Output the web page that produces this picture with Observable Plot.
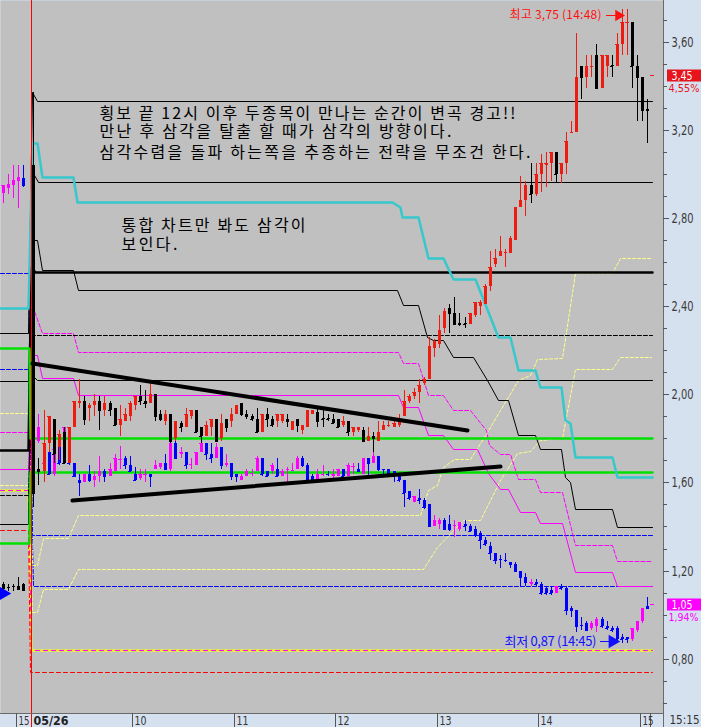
<!DOCTYPE html>
<html><head><meta charset="utf-8">
<script src="https://cdn.jsdelivr.net/npm/d3@7"></script>
<script src="https://cdn.jsdelivr.net/npm/@observablehq/plot@0.6"></script>
<style>
html,body{margin:0;padding:0;background:#d5e1ef;}
#chart svg{display:block;}
</style></head>
<body><div id="chart"></div>
<script>
// ---------- time slots (3-minute candles; negatives = previous day) ----------
const slots = [-6,-5,-4,-3,-2].concat(d3.range(0,122));

// ---------- stock A (red up / black down) ----------
const aOpen = [1.14,1.125,1.13,1.13,1.138,
3.04,1.66,1.65,1.78,1.89,1.76,1.83,1.69,1.85,1.96,
1.97,1.94,1.95,1.97,1.93,1.96,1.94,1.86,1.88,1.90,
1.95,1.99,1.97,1.96,2.00,1.91,1.88,1.91,1.80,1.87,
1.85,1.90,1.93,1.85,1.81,1.85,1.89,1.80,1.89,1.88,
1.91,1.96,1.91,1.90,1.89,1.83,1.91,1.89,1.88,1.88,
1.89,1.84,1.89,1.84,1.85,1.91,1.92,1.892,1.892,1.89,
1.89,1.86,1.88,1.83,1.84,1.84,1.79,1.81,1.79,1.84,
1.858,1.85,1.86,1.90,1.97,1.99,2.01,2.05,2.07,2.21,
2.23,2.30,2.39,2.37,2.325,2.325,2.32,2.36,2.40,2.41,
2.49,2.59,2.63,2.64,2.64,2.70,2.85,2.88,2.95,2.91,
3.00,3.04,3.05,3.10,3.00,3.05,3.185,3.19,3.49,3.44,
3.485,3.54,3.39,3.49,3.495,3.49,3.59,3.685,3.69,3.49,
3.44,3.295];
const aHigh = [1.15,1.14,1.14,1.17,1.142,
3.37,1.71,1.93,1.90,1.89,1.84,1.85,1.85,1.97,2.07,
1.99,1.96,2.00,1.99,1.99,1.97,1.94,1.95,1.94,1.97,
1.99,2.04,2.02,2.05,2.00,1.93,1.93,1.91,1.88,1.88,
1.94,1.93,1.93,1.85,1.88,1.89,1.89,1.91,1.89,1.94,
1.95,1.96,1.93,1.91,1.94,1.91,1.94,1.90,1.91,1.91,
1.91,1.88,1.89,1.86,1.93,1.93,1.94,1.94,1.91,1.91,
1.89,1.90,1.88,1.85,1.85,1.85,1.85,1.83,1.88,1.88,
1.88,1.88,1.91,2.02,2.00,2.03,2.07,2.08,2.26,2.25,
2.36,2.39,2.41,2.44,2.37,2.35,2.37,2.42,2.43,2.50,
2.65,2.66,2.72,2.66,2.72,2.85,2.99,2.97,3.05,3.05,
3.09,3.10,3.10,3.10,3.05,3.19,3.24,3.64,3.49,3.54,
3.54,3.59,3.54,3.54,3.54,3.64,3.75,3.75,3.69,3.54,
3.44,3.34];
const aLow = [1.11,1.105,1.107,1.118,1.105,
1.49,1.59,1.60,1.74,1.69,1.70,1.69,1.69,1.85,1.94,
1.86,1.88,1.90,1.84,1.90,1.90,1.86,1.81,1.88,1.88,
1.93,1.95,1.94,1.96,1.88,1.88,1.86,1.78,1.79,1.83,
1.85,1.89,1.83,1.78,1.81,1.81,1.79,1.79,1.83,1.85,
1.91,1.90,1.89,1.88,1.83,1.83,1.85,1.85,1.85,1.87,
1.85,1.84,1.83,1.82,1.85,1.91,1.85,1.85,1.88,1.87,
1.85,1.85,1.81,1.81,1.83,1.79,1.79,1.74,1.79,1.84,
1.85,1.85,1.85,1.90,1.96,1.98,1.96,2.04,2.07,2.17,
2.21,2.28,2.28,2.32,2.31,2.30,2.32,2.35,2.36,2.41,
2.47,2.58,2.63,2.58,2.64,2.70,2.85,2.81,2.87,2.90,
2.92,2.94,2.97,2.96,2.96,3.00,3.185,3.19,3.34,3.39,
3.44,3.39,3.39,3.44,3.44,3.49,3.54,3.54,3.39,3.24,
3.24,3.14];
const aClose = [1.12,1.123,1.128,1.118,1.113,
1.55,1.65,1.78,1.90,1.73,1.82,1.69,1.85,1.97,1.97,
1.89,1.95,1.97,1.93,1.96,1.93,1.86,1.89,1.91,1.96,
1.99,1.97,1.96,2.00,1.90,1.89,1.91,1.79,1.88,1.85,
1.91,1.93,1.83,1.81,1.86,1.89,1.79,1.87,1.85,1.91,
1.95,1.91,1.90,1.89,1.83,1.91,1.89,1.86,1.91,1.91,
1.88,1.88,1.86,1.86,1.93,1.93,1.88,1.888,1.888,1.87,
1.85,1.88,1.83,1.85,1.85,1.79,1.81,1.80,1.83,1.86,
1.862,1.87,1.89,1.97,1.99,2.01,2.04,2.07,2.22,2.24,
2.29,2.38,2.37,2.32,2.32,2.32,2.37,2.42,2.42,2.49,
2.58,2.62,2.65,2.645,2.71,2.85,2.88,2.95,2.91,3.00,
3.05,3.05,3.10,3.00,3.05,3.15,3.19,3.44,3.44,3.49,
3.49,3.39,3.54,3.54,3.49,3.59,3.69,3.69,3.49,3.44,
3.29,3.29];

// ---------- stock B (magenta up / blue down) ----------
const bOpen = [2.914,2.938,2.951,2.968,2.984,
1.88,1.79,1.65,1.74,1.64,1.76,1.69,1.71,1.69,1.61,
1.60,1.64,1.61,1.63,1.65,1.63,1.65,1.704,1.71,1.68,
1.64,1.62,1.638,1.64,1.66,1.67,1.69,1.66,1.78,1.73,
1.74,1.683,1.68,1.74,1.78,1.73,1.71,1.76,1.68,1.69,
1.64,1.61,1.63,1.641,1.65,1.71,1.65,1.65,1.66,1.63,
1.659,1.656,1.66,1.71,1.68,1.63,1.61,1.638,1.640,1.63,
1.63,1.66,1.63,1.674,1.66,1.64,1.71,1.69,1.72,1.661,
1.66,1.65,1.64,1.61,1.56,1.51,1.53,1.52,1.50,1.40,
1.41,1.43,1.41,1.406,1.39,1.41,1.40,1.39,1.37,1.34,
1.31,1.28,1.254,1.249,1.24,1.23,1.20,1.17,1.14,1.15,
1.14,1.12,1.11,1.10,1.13,1.12,1.03,1.02,0.954,0.96,
0.94,0.95,0.98,0.95,0.94,0.94,0.90,0.90,0.89,0.93,
0.97,1.04];
const bHigh = [2.948,3.000,3.041,3.041,3.041,
1.95,1.91,1.70,1.74,1.75,1.76,1.85,1.72,1.69,1.64,
1.64,1.68,1.65,1.72,1.66,1.69,1.73,1.766,1.72,1.72,
1.67,1.66,1.66,1.64,1.70,1.69,1.73,1.78,1.79,1.76,
1.74,1.71,1.74,1.80,1.78,1.78,1.78,1.76,1.73,1.69,
1.64,1.64,1.66,1.66,1.72,1.71,1.65,1.69,1.71,1.66,
1.67,1.69,1.72,1.72,1.69,1.64,1.66,1.68,1.65,1.66,
1.66,1.66,1.69,1.69,1.69,1.71,1.71,1.74,1.72,1.66,
1.66,1.65,1.64,1.61,1.56,1.54,1.57,1.53,1.50,1.45,
1.44,1.44,1.45,1.43,1.42,1.43,1.41,1.40,1.38,1.35,
1.33,1.28,1.27,1.28,1.24,1.24,1.20,1.19,1.16,1.16,
1.15,1.13,1.13,1.13,1.14,1.13,1.04,1.02,0.99,0.97,
0.97,0.99,0.99,0.97,0.95,0.95,0.91,0.90,0.94,0.97,
1.03,1.08];
const bLow = [2.869,2.909,2.893,2.844,2.943,
1.60,1.78,1.64,1.64,1.63,1.68,1.69,1.68,1.63,1.54,
1.60,1.60,1.58,1.60,1.60,1.63,1.65,1.66,1.66,1.65,
1.61,1.61,1.60,1.58,1.66,1.66,1.66,1.65,1.71,1.71,
1.66,1.66,1.68,1.74,1.70,1.69,1.71,1.66,1.67,1.61,
1.60,1.61,1.63,1.63,1.65,1.63,1.63,1.64,1.63,1.63,
1.60,1.65,1.66,1.67,1.61,1.61,1.60,1.63,1.63,1.62,
1.63,1.63,1.63,1.64,1.65,1.64,1.63,1.69,1.65,1.64,
1.63,1.60,1.60,1.49,1.52,1.51,1.50,1.48,1.40,1.40,
1.39,1.39,1.38,1.35,1.38,1.38,1.38,1.35,1.30,1.31,
1.25,1.23,1.21,1.24,1.21,1.20,1.13,1.13,1.13,1.13,
1.09,1.09,1.09,1.10,1.11,1.00,0.99,0.92,0.93,0.93,
0.93,0.92,0.94,0.93,0.92,0.87,0.87,0.87,0.88,0.92,
0.96,1.03];
const bClose = [2.948,2.954,2.971,2.987,2.951,
1.66,1.85,1.69,1.64,1.75,1.69,1.85,1.69,1.63,1.60,
1.64,1.61,1.63,1.65,1.63,1.66,1.71,1.706,1.68,1.65,
1.61,1.64,1.640,1.63,1.68,1.69,1.66,1.78,1.71,1.74,
1.68,1.685,1.74,1.78,1.73,1.71,1.76,1.68,1.69,1.63,
1.63,1.63,1.65,1.643,1.71,1.64,1.63,1.68,1.63,1.65,
1.661,1.658,1.71,1.68,1.61,1.61,1.64,1.640,1.638,1.64,
1.66,1.63,1.68,1.676,1.65,1.71,1.69,1.72,1.66,1.659,
1.64,1.63,1.61,1.55,1.53,1.54,1.52,1.49,1.40,1.43,
1.43,1.39,1.39,1.408,1.42,1.40,1.38,1.36,1.34,1.32,
1.28,1.25,1.252,1.247,1.23,1.20,1.17,1.15,1.15,1.14,
1.10,1.10,1.10,1.13,1.12,1.02,1.02,0.95,0.952,0.93,
0.96,0.98,0.95,0.94,0.93,0.89,0.89,0.89,0.94,0.97,
1.03,1.03];

// ---------- indicator lines: [slot, price] ----------
const cyanLine = [[-6.59,2.391],[-1.07,2.391],[-0.28,3.140],[0.65,3.140],[1.64,2.988],[7.87,2.988],[8.66,2.874],[70.73,2.874],[72.31,2.852],[72.70,2.804],[75.86,2.804],[77.83,2.618],[80.79,2.618],[82.76,2.522],[87.10,2.522],[91.64,2.262],[94.00,2.262],[95.58,2.111],[98.94,2.111],[99.92,2.035],[104.06,2.035],[104.85,1.884],[105.84,1.870],[106.82,1.717],[114.12,1.717],[115.11,1.626],[121.9,1.626]];
const blackTop = [[-6.59,2.276],[-1.07,2.276],[-0.28,3.372],[0.71,3.332],[121.9,3.332]];
const blackSecond = [[-6.59,2.061],[-1.07,2.061],[-0.08,3.003],[0.91,2.965],[121.9,2.965]];
const blackStep = [[-6.59,1.410],[-1.07,1.410],[-0.28,2.701],[0.71,2.701],[1.70,2.564],[7.81,2.564],[8.80,2.474],[71.72,2.474],[72.90,2.406],[75.86,2.406],[77.63,2.260],[78.82,2.247],[80.79,2.247],[82.76,2.170],[86.71,2.170],[89.47,2.065],[91.64,1.974],[93.61,1.974],[95.58,1.816],[98.94,1.816],[99.92,1.752],[104.06,1.752],[104.85,1.625],[105.84,1.602],[106.82,1.480],[114.12,1.480],[115.11,1.398],[121.9,1.398]];
const blackThick = [[-6.59,1.745],[-1.07,1.745],[-0.47,2.578],[0.32,2.557],[121.9,2.557]];
const blackDash = [[-6.59,1.545],[-1.07,1.545],[-0.08,2.268],[121.9,2.268]];
const blackMid = [[-0.28,2.088],[0.71,2.065],[121.9,2.065]];
const magentaDash = [[-6.59,1.830],[-1.07,1.830],[-0.08,2.392],[1.64,2.280],[7.87,2.280],[8.80,2.194],[71.91,2.194],[72.90,2.142],[75.86,2.142],[77.83,1.997],[80.79,1.997],[82.76,1.929],[86.11,1.929],[89.27,1.838],[89.86,1.770],[92.03,1.729],[94.00,1.729],[95.58,1.616],[98.94,1.616],[99.92,1.557],[104.26,1.557],[106.82,1.316],[114.12,1.316],[115.11,1.244],[121.9,1.244]];
const magentaSolid = [[-6.59,1.662],[-1.07,1.662],[-0.28,2.179],[0.71,2.179],[1.70,2.074],[7.81,2.074],[8.80,1.997],[71.91,1.997],[72.90,1.943],[75.86,1.943],[77.83,1.816],[80.79,1.816],[82.76,1.752],[87.50,1.752],[89.66,1.643],[92.03,1.570],[93.61,1.570],[95.98,1.466],[98.94,1.466],[99.92,1.416],[104.26,1.416],[106.82,1.194],[114.12,1.194],[115.11,1.130],[121.9,1.130]];
const greenUpper = [[-6.59,2.209],[-0.87,2.209],[-0.67,1.801],[121.9,1.801]];
const greenLower = [[-6.59,1.323],[-0.87,1.323],[-0.67,1.649],[121.9,1.649]];
const blueUpper = [[-6.59,2.550],[-1.07,2.550],[-0.28,1.360],[121.9,1.360]];
const blueLower = [[-6.59,2.115],[-1.07,2.115],[-0.08,1.129],[121.9,1.129]];
const redDash = [[-6.59,1.385],[-1.07,1.385],[-0.67,0.738],[121.9,0.738]];
const yellowBase = [[-6.59,1.566],[-1.07,1.566],[-0.47,0.840],[121.9,0.840]];
const yellowUpper = [[-6.59,1.916],[-1.07,1.916],[-0.28,1.225],[0.71,1.225],[1.89,1.347],[6.82,1.347],[8.80,1.452],[76.25,1.452],[77.83,1.566],[79.61,1.589],[80.79,1.670],[82.96,1.707],[86.11,1.707],[89.47,1.829],[92.03,1.929],[95.58,2.065],[97.95,2.088],[99.33,2.160],[104.26,2.165],[106.82,2.551],[114.12,2.551],[115.70,2.618],[121.81,2.618]];
const yellowLower = [[-6.59,1.586],[-1.07,1.586],[-0.28,1.013],[0.71,1.013],[1.89,1.115],[6.82,1.115],[8.80,1.206],[76.84,1.206],[79.61,1.307],[84.73,1.430],[88.09,1.430],[92.03,1.611],[95.38,1.734],[97.95,1.743],[99.92,1.793],[104.26,1.802],[106.82,2.115],[114.12,2.115],[115.70,2.171],[121.81,2.171]];
const trendUpper = [[-0.3,2.141],[85.46,1.838]];
const trendLower = [[7.55,1.521],[92.03,1.675]];

// ---------- axis ticks / labels ----------
const yLabelTicks = [0.8,1.2,1.6,2.0,2.4,2.8,3.2,3.6];
const yMinorTicks = [0.6,0.7,0.9,1.0,1.1,1.3,1.4,1.5,1.7,1.8,1.9,2.1,2.2,2.3,2.5,2.6,2.7,2.9,3.0,3.1,3.3,3.4,3.5,3.7];
const xTickSlots = [-3.5,-0.55,19.5,39.5,59.5,79.5,99.5,119.5];
const xTickLabels = ["15","05/26","10","11","12","13","14","15"];
const lastA = 3.45, lastAPct = "4,55%";
const lastB = 1.05, lastBPct = "1,94%";
const highA = 3.75, lowB = 0.87;

const notesMain = ["횡보 끝 12시 이후 두종목이 만나는 순간이 변곡 경고!!","만난 후 삼각을 탈출 할 때가 삼각의 방향이다.","삼각수렴을 돌파 하는쪽을 추종하는 전략을 무조건 한다."];
const notesSub = ["통합 차트만 봐도 삼각이","보인다."];

// ---------- layout ----------
const W = 701, Hgt = 727, mR = 38, mB = 14;
const xDom = [-6.59, 124.12], yDom = [0.5533, 3.7898];
const xMax = xDom[1], yMin = yDom[0], yMax = yDom[1];
const pxT = (xDom[1]-xDom[0])/(W-mR);   // slot units per pixel
const pxV = (yDom[1]-yDom[0])/(Hgt-mB); // price units per pixel
const fmt = d => d.toFixed(2).replace(".", ",");
const NARROW = "'Liberation Sans Narrow','DejaVu Sans Condensed','Liberation Sans',sans-serif";
const KR = "'Noto Sans CJK KR','Noto Sans CJK SC',sans-serif";

const RED="#ee1b10", BLK="#000000", MAG="#ff00ff", BLU="#0000ff";

function rows(O,H,L,C){ return slots.map((s,i)=>({t:s,o:O[i],h:H[i],l:L[i],c:C[i]})); }
const A = rows(aOpen,aHigh,aLow,aClose), B = rows(bOpen,bHigh,bLow,bClose);

function candleMarks(data, up, down){
  const u = data.filter(d=>d.c>=d.o), dn = data.filter(d=>d.c<d.o);
  const out = [];
  for (const [set,col] of [[dn,down],[u,up]]) {
    out.push(Plot.ruleX(set,{x:"t",y1:"l",y2:"h",stroke:col,strokeWidth:1}));
    out.push(Plot.ruleX(set,{x:"t",y1:"o",y2:"c",stroke:col,strokeWidth:3}));
    out.push(Plot.ruleY(set,{y:"c",x1:d=>d.t-0.3,x2:d=>d.t+0.3,stroke:col,strokeWidth:1}));
  }
  return out;
}
const L = (data,opt)=>Plot.line(data,{x:d=>d[0],y:d=>d[1],...opt});

const chart = Plot.plot({
  width: W, height: Hgt,
  marginLeft: 0, marginRight: mR, marginTop: 0, marginBottom: mB,
  x: {domain: xDom, axis: null, round: true},
  y: {domain: yDom, axis: null, round: true},
  style: {background: "#d5e1ef", fontFamily: NARROW, fontSize: "13px", overflow: "visible"},
  marks: [
    Plot.frame({fill: "#c0c0c0", stroke: null}),
    // indicator lines
    L(yellowBase,{stroke:"#ffff00",strokeWidth:2}),
    L(yellowBase,{stroke:MAG,strokeWidth:1,strokeDasharray:"4,4"}),
    L(redDash,{stroke:"#ff0000",strokeWidth:1,strokeDasharray:"4,3"}),
    L(blueUpper,{stroke:BLU,strokeWidth:1,strokeDasharray:"4,2"}),
    L(blueLower,{stroke:BLU,strokeWidth:1,strokeDasharray:"4,2"}),
    L(yellowUpper,{stroke:"#ffff88",strokeWidth:1,strokeDasharray:"3,2"}),
    L(yellowLower,{stroke:"#ffff88",strokeWidth:1,strokeDasharray:"3,2"}),
    L(magentaDash,{stroke:MAG,strokeWidth:1,strokeDasharray:"4,2"}),
    L(magentaSolid,{stroke:MAG,strokeWidth:1}),
    L(blackDash,{stroke:BLK,strokeWidth:1,strokeDasharray:"4,2"}),
    L(blackTop,{stroke:BLK,strokeWidth:1}),
    L(blackSecond,{stroke:BLK,strokeWidth:1}),
    L(blackStep,{stroke:BLK,strokeWidth:1}),
    L(blackMid,{stroke:BLK,strokeWidth:1}),
    L(blackThick,{stroke:BLK,strokeWidth:2.5}),
    L(greenUpper,{stroke:"#00e000",strokeWidth:2.5}),
    L(greenLower,{stroke:"#00e000",strokeWidth:2.5}),
    L(cyanLine,{stroke:"#36c8cc",strokeWidth:2.5}),
    // day divider
    Plot.ruleX([xTickSlots[1]],{x:d=>d,y1:()=>yMax,y2:()=>yMin-14*pxV,stroke:"#ff0000",strokeWidth:1}),
    // candles
    ...candleMarks(B, MAG, BLU),
    ...candleMarks(A, RED, BLK),
    // trend lines
    L(trendUpper,{stroke:BLK,strokeWidth:4}),
    L(trendLower,{stroke:BLK,strokeWidth:4}),
    // current price markers
    Plot.ruleY([lastA],{y:d=>d,x1:()=>121.6,x2:()=>122.4,stroke:RED}),
    Plot.ruleY([lastB],{y:d=>d,x1:()=>121.6,x2:()=>122.4,stroke:MAG}),
    // previous close marker
    Plot.dot([1.10],{x:()=>-6.0,y:d=>d,symbol:"triangle",rotate:90,r:5,fill:BLU,stroke:null}),
    // annotations
    Plot.text(notesMain,{x:()=>13.0,y:(d,i)=>[3.276,3.195,3.098][i],text:d=>d,textAnchor:"start",fontSize:16,fontFamily:KR,fill:"#000"}),
    Plot.text(notesSub,{x:()=>17.3,y:(d,i)=>[2.769,2.682][i],text:d=>d,textAnchor:"start",fontSize:16,fontFamily:KR,fill:"#000"}),
    Plot.text([highA],{x:()=>93.67,y:()=>3.722,text:d=>"최고 "+fmt(d)+" (14:48)",textAnchor:"start",fontSize:12,fontFamily:KR,fill:"#ff1010"}),
    Plot.ruleY([3.722],{y:d=>d,x1:()=>112.9,x2:()=>115.0,stroke:"#ff1010",strokeWidth:1}),
    Plot.dot([3.722],{x:()=>115.3,y:d=>d,symbol:"triangle",rotate:90,r:4.2,fill:"#ff1010",stroke:null}),
    Plot.text([lowB],{x:()=>92.68,y:()=>0.880,text:d=>"최저 "+fmt(d)+" (14:45)",textAnchor:"start",fontSize:13,fontFamily:KR,fill:"#1010ff"}),
    Plot.ruleY([0.880],{y:d=>d,x1:()=>111.7,x2:()=>113.8,stroke:"#1010ff",strokeWidth:1}),
    Plot.dot([0.880],{x:()=>114.1,y:d=>d,symbol:"triangle",rotate:90,r:5,fill:"#1010ff",stroke:null}),
    // borders
    Plot.ruleX([xMax],{x:d=>d,y1:()=>yMax,y2:()=>yMin-14*pxV,stroke:"#6a6a6a"}),
    Plot.ruleY([yMin],{y:d=>d,x1:()=>xDom[0],x2:()=>xMax,stroke:"#6a6a6a"}),
    // right axis
    Plot.ruleY(yMinorTicks,{y:d=>d,x1:()=>xMax,x2:()=>xMax+4*pxT,stroke:"#555"}),
    Plot.ruleY(yLabelTicks,{y:d=>d,x1:()=>xMax,x2:()=>xMax+6*pxT,stroke:"#555"}),
    Plot.text(yLabelTicks,{x:()=>xMax,y:d=>d,text:fmt,dx:8,textAnchor:"start",fill:"#3a3a3a",fontSize:14}),
    // last price boxes
    Plot.ruleY([lastA],{y:d=>d,x1:()=>xMax+4*pxT,x2:()=>xMax+40*pxT,stroke:"#e8141c",strokeWidth:12}),
    Plot.text([lastA],{x:()=>xMax,y:d=>d,text:fmt,dx:8,textAnchor:"start",fill:"#fff",fontSize:13}),
    Plot.text([lastAPct],{x:()=>xMax,y:()=>lastA,text:d=>d,dx:5,dy:13,textAnchor:"start",fill:"#e8141c",fontSize:11}),
    Plot.ruleY([lastB],{y:d=>d,x1:()=>xMax+4*pxT,x2:()=>xMax+40*pxT,stroke:MAG,strokeWidth:12}),
    Plot.text([lastB],{x:()=>xMax,y:d=>d,text:fmt,dx:8,textAnchor:"start",fill:"#fff",fontSize:13}),
    Plot.text([lastBPct],{x:()=>xMax,y:()=>lastB,text:d=>d,dx:5,dy:13,textAnchor:"start",fill:MAG,fontSize:11}),
    // bottom axis
    Plot.ruleX(xTickSlots.filter((d,i)=>i!==1).concat([121.6]),{x:d=>d,y1:()=>yMin,y2:()=>yMin-14*pxV,stroke:"#555"}),
    Plot.text(xTickSlots.filter((d,i)=>i!==1),{x:d=>d,y:()=>yMin-7*pxV,text:(d,i)=>xTickLabels.filter((s,j)=>j!==1)[i],dx:2,textAnchor:"start",fill:"#333",fontSize:13}),
    Plot.text([xTickLabels[1]],{x:()=>xTickSlots[1],y:()=>yMin-7*pxV,text:d=>d,dx:2,textAnchor:"start",fill:"#222",fontSize:13,fontWeight:"bold"}),
    Plot.text(["15:15"],{x:()=>xMax,y:()=>yMin-7*pxV,text:d=>d,dx:6,textAnchor:"start",fill:"#333",fontSize:12})
  ]
});

// fixed label widths (bitmap-like fonts of the original)
const widths = {"0,80":22,"1,20":22,"1,60":22,"2,00":22,"2,40":22,"2,80":22,"3,20":22,"3,60":22,
  "3,45":21,"4,55%":31,"1,05":21,"1,94%":30,"15":11,"05/26":35,"10":12,"11":12,"12":12,"13":12,"14":12,"15:15":30};
const widthsKR = {};
widthsKR[notesMain[0]]=416; widthsKR[notesMain[1]]=352; widthsKR[notesMain[2]]=431;
widthsKR[notesSub[0]]=184; widthsKR[notesSub[1]]=56;
widthsKR["최고 3,75 (14:48)"]=92; widthsKR["최저 0,87 (14:45)"]=92;
chart.querySelectorAll("text").forEach(t=>{
  const s = t.textContent;
  if (widths[s]) { t.setAttribute("textLength", widths[s]); t.setAttribute("lengthAdjust","spacingAndGlyphs"); }
  else if (widthsKR[s]) { t.setAttribute("textLength", widthsKR[s]); t.setAttribute("lengthAdjust","spacing"); }
});
document.getElementById("chart").appendChild(chart);
</script>
</body></html>
